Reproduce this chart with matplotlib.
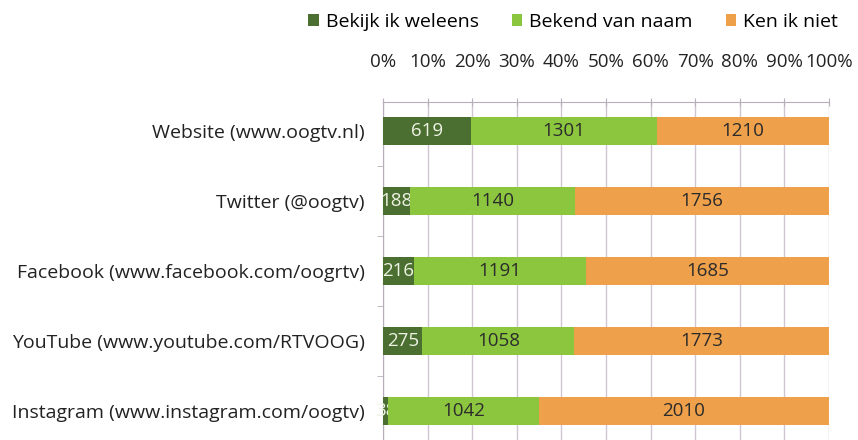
import numpy as np
import matplotlib.pyplot as plt

plt.rcParams['font.family'] = ['Open Sans', 'DejaVu Sans']

# data
categories = ['Website (www.oogtv.nl)', 'Twitter (@oogtv)', 'Facebook (www.facebook.com/oogrtv)',
              'YouTube (www.youtube.com/RTVOOG)', 'Instagram (www.instagram.com/oogtv)']
bekijk = [619, 188, 216, 275, 38]
bekend = [1301, 1140, 1191, 1058, 1042]
ken_niet = [1210, 1756, 1685, 1773, 2010]
series_names = ['Bekijk ik weleens', 'Bekend van naam', 'Ken ik niet']
colors = ['#4b6e31', '#8cc63e', '#eea04a']
text_colors = ['#eef3e4', '#2b2b2b', '#2b2b2b']

counts = np.array([bekijk, bekend, ken_niet], dtype=float)
totals = counts.sum(axis=0)
shares = counts / totals * 100

fig = plt.figure(figsize=(8.58, 4.40), dpi=100)
ax = fig.add_axes([0.4464, 0.0, 0.5198, 0.7682])

y = np.arange(len(categories))
left = np.zeros(len(categories))
for i in range(3):
    bars = ax.barh(y, shares[i], left=left, height=0.4, color=colors[i],
                   label=series_names[i], zorder=3)
    labels = ax.bar_label(bars, labels=[str(int(v)) for v in counts[i]],
                          label_type='center', color=text_colors[i], fontsize=13.5)
    for t in labels:
        t.set_clip_on(True)
    left += shares[i]

ax.set_xlim(0, 100)
ax.set_ylim(len(categories) - 1 + 0.414, -0.414)
ax.xaxis.tick_top()
ax.set_xticks(np.arange(0, 101, 10))
ax.set_xticklabels([f'{v}%' for v in range(0, 101, 10)], fontsize=13.5, color='#222222')
ax.tick_params(axis='x', direction='inout', length=6, color='#b8aebb', pad=19)

ax.set_yticks(y)
ax.set_yticklabels(categories, fontsize=14, color='#222222')
ax.tick_params(axis='y', length=0, pad=13)
ax.set_yticks(y[:-1] + 0.5, minor=True)
ax.tick_params(axis='y', which='minor', length=4, color='#b8aebb')

ax.grid(axis='x', color='#cfc6d2', linewidth=1, zorder=0)
for s in ['right', 'bottom']:
    ax.spines[s].set_visible(False)
for s in ['top', 'left']:
    ax.spines[s].set_color('#b8aebb')

fig.legend(loc='upper center', bbox_to_anchor=(0.668, 1.01), ncol=3, frameon=False,
           fontsize=14, handlelength=0.55, handleheight=0.55, handletextpad=0.35,
           columnspacing=1.7)

fig.savefig('out.png', dpi=100)
